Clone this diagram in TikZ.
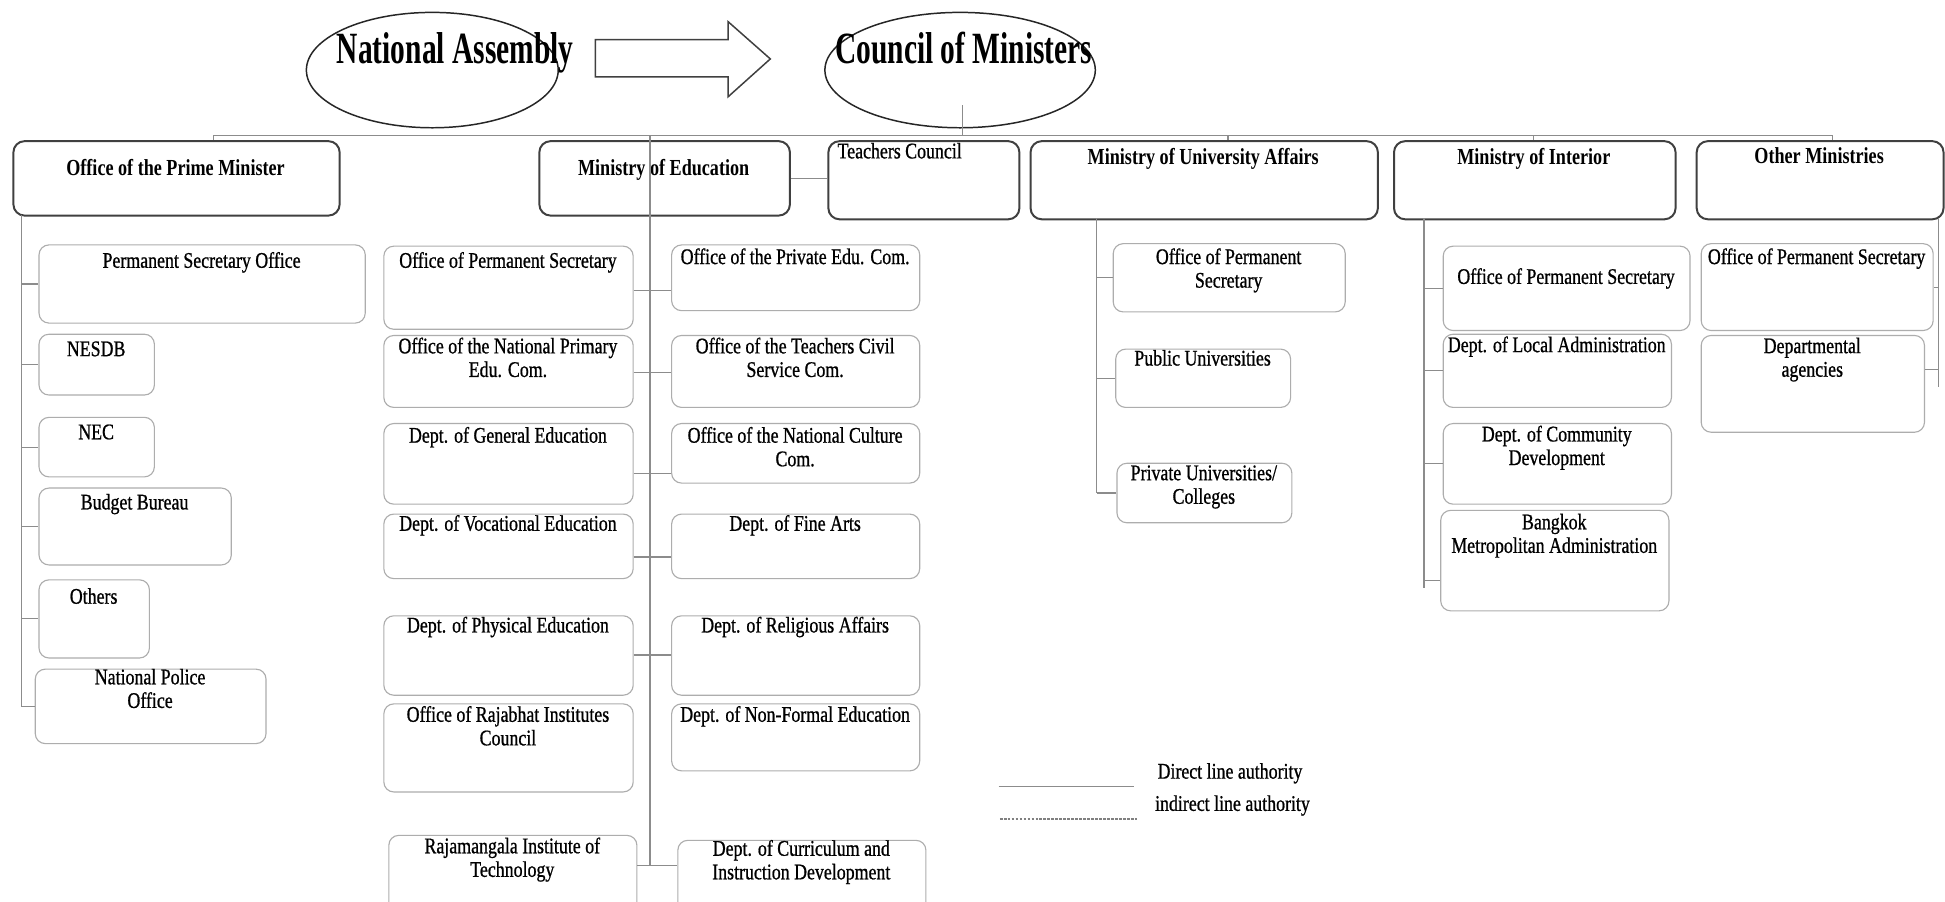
\documentclass[tikz,border=0pt]{standalone}
\usepackage{fontspec}
\setmainfont{Liberation Serif}
\newfontfamily\TitleF[FakeStretch=0.66]{Liberation Serif}
\newfontfamily\MinF[FakeStretch=0.79]{Liberation Serif}
\newfontfamily\LeafF[FakeStretch=0.8,FakeBold=0.8]{Liberation Serif}
\usetikzlibrary{shapes.geometric,calc}

\tikzset{
  topbox/.style={draw=black!75, line width=1.6pt, rounded corners=9pt, inner sep=0pt},
  leafbox/.style={draw=black!32, line width=0.9pt, rounded corners=8pt, inner sep=0pt},
  topbox text/.style={font=\MinF\bfseries\fontsize{18.5}{20}\selectfont, inner sep=0pt, align=center},
  leafbox text/.style={font=\LeafF\fontsize{18}{19}\selectfont, inner sep=0pt, align=center},
  titletext/.style={font=\TitleF\bfseries\fontsize{36}{38}\selectfont, inner sep=0pt},
  oval/.style={ellipse, draw=black!85, line width=1.2pt, inner sep=0pt},
  conn/.style={draw=black!45, line width=0.9pt},
  indirect/.style={draw=black!50, line width=1.4pt, dash pattern=on 2.2pt off 1pt},
  blockarrow/.style={draw=black!75, line width=1.2pt, line join=miter}
}

\newcommand{\orgbox}[8]{%
  \node[#1, anchor=north west, minimum width={(#5)-(#3)}, minimum height={(#6)-(#4)}] (#2) at (#3,#4) {};
  \node[#1 text, anchor=north] (#2t) at ({((#3)+(#5))/2},#7) {#8};
}

\begin{document}
\begin{tikzpicture}[x=1pt,y=-1pt]
\useasboundingbox (0,0) rectangle (1568,727);
\clip (0,0) rectangle (1568,727);
\fill[white] (0,0) rectangle (1568,727);

% ---- top ellipses and arrow ----
\node[oval, minimum width=203, minimum height=93] (na) at (348.5,56.5) {};
\node[titletext, anchor=base] (nat) at (367,51) {National Assembly};
\node[oval, minimum width=218, minimum height=93] (cm) at (774,56.5) {};
\node[titletext, anchor=base] (cmt) at (777,51) {Council of Ministers};
\draw[blockarrow] (480,32) -- (587,32) -- (587,17.5) -- (621,47.5) -- (587,78) -- (587,62) -- (480,62) -- cycle;

% ---- top level boxes ----
\orgbox{topbox}{pm}{10}{113}{273}{173}{128}{Office of the Prime Minister}
\orgbox{topbox}{me}{434}{113}{636}{173}{128}{Ministry of Education}
\node[topbox, anchor=north west, minimum width=154, minimum height=63] (tc) at (667,113) {};
\node[leafbox text, anchor=north west] (tct) at (675,115) {Teachers Council};
\orgbox{topbox}{mua}{830}{113}{1110}{176}{119}{Ministry of University Affairs}
\orgbox{topbox}{mi}{1123}{113}{1350}{176}{119}{Ministry of Interior}
\orgbox{topbox}{om}{1367}{113}{1566}{176}{119}{Other Ministries}

% ---- Office of the Prime Minister ----
\orgbox{leafbox}{ps}{31}{197}{294}{260}{203}{Permanent Secretary Office}
\orgbox{leafbox}{nesdb}{31}{269}{124}{318}{275}{NESDB}
\orgbox{leafbox}{nec}{31}{336}{124}{384}{342}{NEC}
\orgbox{leafbox}{bb}{31}{393}{186}{455}{398}{Budget Bureau}
\orgbox{leafbox}{oth}{31}{467}{120}{530}{474}{Others}
\orgbox{leafbox}{npo}{28}{539}{214}{599}{539}{National Police\\Office}

% ---- Ministry of Education ----
\orgbox{leafbox}{ml1}{309}{198}{510}{265}{203}{Office of Permanent Secretary}
\orgbox{leafbox}{mr1}{541}{197}{741}{250}{200}{Office of the Private Edu. Com.}
\orgbox{leafbox}{ml2}{309}{270}{510}{328}{272}{Office of the National Primary\\Edu. Com.}
\orgbox{leafbox}{mr2}{541}{270}{741}{328}{272}{Office of the Teachers Civil\\Service Com.}
\orgbox{leafbox}{ml3}{309}{341}{510}{406}{344}{Dept. of General Education}
\orgbox{leafbox}{mr3}{541}{341}{741}{389}{344}{Office of the National Culture\\Com.}
\orgbox{leafbox}{ml4}{309}{414}{510}{466}{415}{Dept. of Vocational Education}
\orgbox{leafbox}{mr4}{541}{414}{741}{466}{415}{Dept. of Fine Arts}
\orgbox{leafbox}{ml5}{309}{496}{510}{560}{497}{Dept. of Physical Education}
\orgbox{leafbox}{mr5}{541}{496}{741}{560}{497}{Dept. of Religious Affairs}
\orgbox{leafbox}{ml6}{309}{567}{510}{638}{569}{Office of Rajabhat Institutes\\Council}
\orgbox{leafbox}{mr6}{541}{567}{741}{621}{569}{Dept. of Non-Formal Education}
\orgbox{leafbox}{ml7}{313}{673}{513}{745}{675}{Rajamangala Institute of\\Technology}
\orgbox{leafbox}{mr7}{546}{677}{746}{745}{677}{Dept. of Curriculum and\\Instruction Development}

% ---- Ministry of University Affairs ----
\orgbox{leafbox}{u1}{897}{196}{1084}{251}{200}{Office of Permanent\\Secretary}
\orgbox{leafbox}{u2}{899}{281}{1040}{328}{282}{Public Universities}
\orgbox{leafbox}{u3}{900}{373}{1041}{421}{375}{Private Universities/\\Colleges}

% ---- Ministry of Interior ----
\orgbox{leafbox}{i1}{1163}{198}{1362}{266}{216}{Office of Permanent Secretary}
\orgbox{leafbox}{i2}{1163}{269}{1347}{328}{271}{Dept. of Local Administration}
\orgbox{leafbox}{i3}{1163}{341}{1347}{406}{343}{Dept. of Community\\Development}
\orgbox{leafbox}{i4}{1161}{411}{1345}{492}{414}{Bangkok\\Metropolitan Administration}

% ---- Other Ministries ----
\orgbox{leafbox}{o1}{1371}{196}{1558}{266}{200}{Office of Permanent Secretary}
\orgbox{leafbox}{o2}{1371}{270}{1551}{348}{272}{Departmental\\agencies}

% ---- connectors ----
\coordinate (cmd) at (776,85);
\coordinate (busL) at (172,109);
\coordinate (busR) at (1477,109);
\draw[conn] (cmd) -- (cmd |- busL);
\draw[conn] (busL) -- (busR);
\draw[conn] (busL) -- (busL |- pm.north);
\draw[conn] (990,109) -- (990,109 |- mua.north);
\draw[conn] (1236,109) -- (1236,109 |- mi.north);
\draw[conn] (busR) -- (busR |- om.north);
\draw[conn] (me.east) -- (me.east -| tc.west);

% Prime Minister trunk
\coordinate (pmtr) at (17,173);
\draw[conn] (pmtr) -- (pmtr |- npo.west);
\foreach \n in {ps,nesdb,nec,bb,oth,npo}
  \draw[conn] (pmtr |- \n.west) -- (\n.west);

% Education trunk
\coordinate (metr) at (524,109);
\coordinate (meend) at (524,698);
\draw[conn] (metr) -- (meend);
\foreach \l/\r/\yy in {ml1/mr1/234, ml2/mr2/300, ml3/mr3/382, ml4/mr4/449, ml5/mr5/528, ml7/mr7/698}
  \draw[conn] (\l.east |- 0,\yy) -- (\r.west |- 0,\yy);

% University Affairs trunk
\coordinate (utr) at (884,176);
\draw[conn] (utr) -- (utr |- u3.west);
\foreach \n in {u1,u2,u3}
  \draw[conn] (utr |- \n.west) -- (\n.west);

% Interior trunk
\coordinate (itr) at (1148,176);
\coordinate (itrend) at (1148,474);
\draw[conn] (itr) -- (itrend);
\foreach \n in {i1,i2,i3}
  \draw[conn] (itr |- \n.west) -- (\n.west);
\draw[conn] (itr |- 0,468) -- (i4.west |- 0,468);

% Other Ministries trunk
\coordinate (otr) at (1563,176);
\coordinate (otrend) at (1563,312);
\draw[conn] (otr) -- (otrend);
\draw[conn] (otr |- o1.east) -- (o1.east);
\draw[conn] (otr |- 0,298) -- (o2.east |- 0,298);

% ---- legend ----
\coordinate (lgA) at (805,634);
\coordinate (lgB) at (914,634);
\coordinate (lgC) at (806,660);
\coordinate (lgD) at (917,660);
\draw[conn] (lgA) -- (lgB);
\draw[indirect] (lgC) -- (lgD);
\node[leafbox text, anchor=north west] (lg1) at (933,615) {Direct line authority};
\node[leafbox text, anchor=north west] (lg2) at (931,641) {indirect line authority};
\end{tikzpicture}
\end{document}
